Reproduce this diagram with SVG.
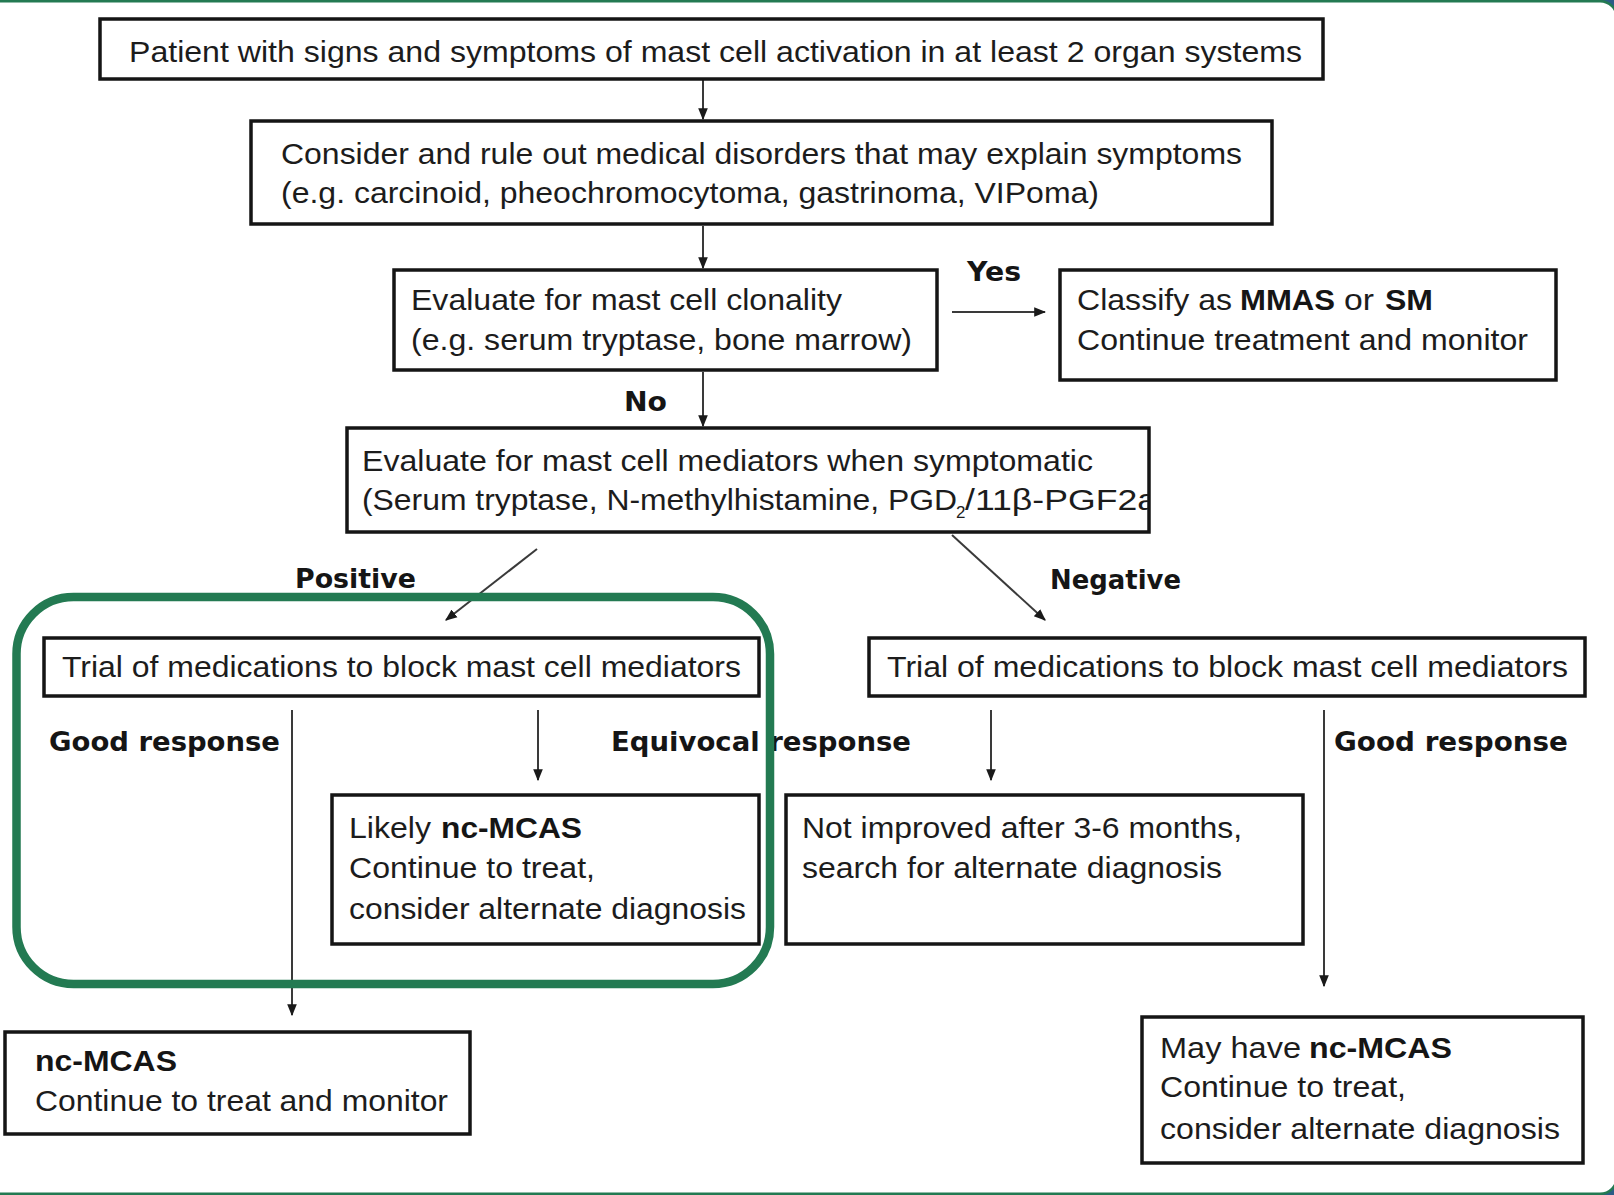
<svg xmlns="http://www.w3.org/2000/svg" width="1614" height="1195" viewBox="0 0 1614 1195">
<style>
.box{fill:#fff;stroke:#151515;stroke-width:3.5}
.t{font-family:"Liberation Sans",Arial,sans-serif;font-size:30px;fill:#1c1c1c}
.b{font-family:"Liberation Sans",Arial,sans-serif;font-size:30px;font-weight:bold;fill:#151515}
.lbl{font-family:"DejaVu Sans","Liberation Sans",sans-serif;font-size:26px;font-weight:bold;fill:#151515}
.c{stroke:#3a3a3a;stroke-width:2;fill:none}
</style>
<defs>
<marker id="ah" viewBox="0 0 10 10" refX="9" refY="5" markerWidth="6" markerHeight="6" orient="auto" markerUnits="strokeWidth">
<path d="M0,1 L10,5 L0,9 z" fill="#1a1a1a"/>
</marker>
<clipPath id="clip5"><rect x="347" y="428" width="801" height="104"/></clipPath>
</defs>
<rect x="0" y="0" width="1614" height="1195" fill="#2b5c86"/>
<rect x="-40" y="1.2" width="1657" height="1192.6" rx="17" fill="#fff" stroke="#237a52" stroke-width="2.6"/>

<g id="connectors">
<line class="c" x1="703" y1="80" x2="703" y2="119" marker-end="url(#ah)"/>
<line class="c" x1="703" y1="226" x2="703" y2="268" marker-end="url(#ah)"/>
<line class="c" x1="952" y1="312" x2="1045" y2="312" marker-end="url(#ah)"/>
<line class="c" x1="703" y1="372" x2="703" y2="426" marker-end="url(#ah)"/>
<line class="c" x1="537" y1="549" x2="446" y2="620" marker-end="url(#ah)"/>
<line class="c" x1="952" y1="535" x2="1045" y2="620" marker-end="url(#ah)"/>
<line class="c" x1="292" y1="710" x2="292" y2="1015" marker-end="url(#ah)"/>
<line class="c" x1="538" y1="710" x2="538" y2="780" marker-end="url(#ah)"/>
<line class="c" x1="991" y1="710" x2="991" y2="780" marker-end="url(#ah)"/>
<line class="c" x1="1324" y1="710" x2="1324" y2="986" marker-end="url(#ah)"/>
<text class="lbl" x="967" y="281" textLength="54" lengthAdjust="spacingAndGlyphs">Yes</text>
<text class="lbl" x="624" y="411" textLength="43" lengthAdjust="spacingAndGlyphs">No</text>
<text class="lbl" x="295" y="588" textLength="121" lengthAdjust="spacingAndGlyphs">Positive</text>
<text class="lbl" x="1050" y="589" textLength="131" lengthAdjust="spacingAndGlyphs">Negative</text>
<text class="lbl" x="49" y="751" textLength="231" lengthAdjust="spacingAndGlyphs">Good response</text>
<text class="lbl" x="611" y="751" textLength="300" lengthAdjust="spacingAndGlyphs">Equivocal response</text>
<text class="lbl" x="1334" y="751" textLength="234" lengthAdjust="spacingAndGlyphs">Good response</text>
</g>

<g id="n1">
<rect class="box" x="100" y="19" width="1223" height="60"/>
<text class="t" x="129" y="62" textLength="1173" lengthAdjust="spacingAndGlyphs">Patient with signs and symptoms of mast cell activation in at least 2 organ systems</text>
</g>
<g id="n2">
<rect class="box" x="251" y="121" width="1021" height="103"/>
<text class="t" x="281" y="164" textLength="961" lengthAdjust="spacingAndGlyphs">Consider and rule out medical disorders that may explain symptoms</text>
<text class="t" x="281" y="203" textLength="818" lengthAdjust="spacingAndGlyphs">(e.g. carcinoid, pheochromocytoma, gastrinoma, VIPoma)</text>
</g>
<g id="n3">
<rect class="box" x="394" y="270" width="543" height="100"/>
<text class="t" x="411" y="310" textLength="431" lengthAdjust="spacingAndGlyphs">Evaluate for mast cell clonality</text>
<text class="t" x="411" y="350" textLength="501" lengthAdjust="spacingAndGlyphs">(e.g. serum tryptase, bone marrow)</text>
</g>
<g id="n4">
<rect class="box" x="1060" y="270" width="496" height="110"/>
<text class="t" x="1077" y="310" textLength="155" lengthAdjust="spacingAndGlyphs">Classify as</text>
<text class="b" x="1240" y="310" textLength="95" lengthAdjust="spacingAndGlyphs">MMAS</text>
<text class="t" x="1344" y="310" textLength="30" lengthAdjust="spacingAndGlyphs">or</text>
<text class="b" x="1385" y="310" textLength="48" lengthAdjust="spacingAndGlyphs">SM</text>
<text class="t" x="1077" y="350" textLength="451" lengthAdjust="spacingAndGlyphs">Continue treatment and monitor</text>
</g>
<g id="n5">
<rect class="box" x="347" y="428" width="802" height="104"/>
<text class="t" x="362" y="471" textLength="731" lengthAdjust="spacingAndGlyphs">Evaluate for mast cell mediators when symptomatic</text>
<g clip-path="url(#clip5)">
<text class="t" x="362" y="510" textLength="595" lengthAdjust="spacingAndGlyphs">(Serum tryptase, N-methylhistamine, PGD</text>
<text class="t" x="956" y="518" style="font-size:17px">2</text>
<text class="t" x="965" y="510" textLength="192" lengthAdjust="spacingAndGlyphs">/11β-PGF2a</text>
</g>
</g>
<g id="n6">
<rect class="box" x="44" y="638" width="715" height="58"/>
<text class="t" x="62" y="677" textLength="679" lengthAdjust="spacingAndGlyphs">Trial of medications to block mast cell mediators</text>
</g>
<g id="n7">
<rect class="box" x="869" y="638" width="716" height="58"/>
<text class="t" x="887" y="677" textLength="681" lengthAdjust="spacingAndGlyphs">Trial of medications to block mast cell mediators</text>
</g>
<g id="n9">
<rect class="box" x="332" y="795" width="427" height="149"/>
<text class="t" x="349" y="838" textLength="82" lengthAdjust="spacingAndGlyphs">Likely</text>
<text class="b" x="441" y="838" textLength="141" lengthAdjust="spacingAndGlyphs">nc-MCAS</text>
<text class="t" x="349" y="878" textLength="246" lengthAdjust="spacingAndGlyphs">Continue to treat,</text>
<text class="t" x="349" y="919" textLength="397" lengthAdjust="spacingAndGlyphs">consider alternate diagnosis</text>
</g>
<g id="n10">
<rect class="box" x="786" y="795" width="517" height="149"/>
<text class="t" x="802" y="838" textLength="440" lengthAdjust="spacingAndGlyphs">Not improved after 3-6 months,</text>
<text class="t" x="802" y="878" textLength="420" lengthAdjust="spacingAndGlyphs">search for alternate diagnosis</text>
</g>
<g id="n8">
<rect class="box" x="5" y="1032" width="465" height="102"/>
<text class="b" x="35" y="1071" textLength="142" lengthAdjust="spacingAndGlyphs">nc-MCAS</text>
<text class="t" x="35" y="1111" textLength="413" lengthAdjust="spacingAndGlyphs">Continue to treat and monitor</text>
</g>
<g id="n11">
<rect class="box" x="1142" y="1017" width="441" height="146"/>
<text class="t" x="1160" y="1058" textLength="141" lengthAdjust="spacingAndGlyphs">May have</text>
<text class="b" x="1309" y="1058" textLength="143" lengthAdjust="spacingAndGlyphs">nc-MCAS</text>
<text class="t" x="1160" y="1097" textLength="246" lengthAdjust="spacingAndGlyphs">Continue to treat,</text>
<text class="t" x="1160" y="1139" textLength="400" lengthAdjust="spacingAndGlyphs">consider alternate diagnosis</text>
</g>

<g id="highlight">
<rect x="16.5" y="597" width="753.5" height="387" rx="57" fill="none" stroke="#237a52" stroke-width="8.5"/>
</g>
</svg>
